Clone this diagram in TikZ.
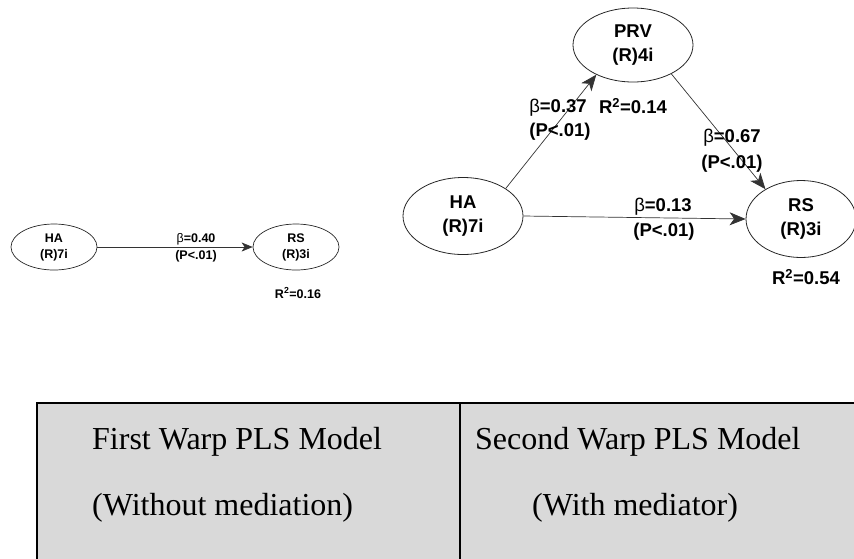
\documentclass[tikz,border=0pt]{standalone}
\usepackage{fontspec}
\setmainfont{Liberation Sans}
\newfontfamily\tabfont{Liberation Serif}
\usetikzlibrary{arrows.meta,shapes.geometric}
\begin{document}
\begin{tikzpicture}[x=1pt,y=-1pt,
  latbig/.style={ellipse,draw=black!85,line width=0.8pt,inner sep=0pt,minimum width=120pt,minimum height=77pt,align=center,font=\fontsize{18.5}{24}\selectfont\bfseries},
  latsmall/.style={ellipse,draw=black!85,line width=0.7pt,inner sep=0pt,minimum width=86pt,minimum height=46pt,align=center,font=\fontsize{12.5}{16}\selectfont\bfseries},
  pathbig/.style={draw=black!80,line width=0.7pt,-{Stealth[length=16pt,width=13pt,inset=4.5pt]}},
  pathsmall/.style={draw=black!80,line width=0.6pt,-{Stealth[length=11pt,width=9pt,inset=3pt]}},
  lblbig/.style={inner sep=0pt,font=\fontsize{18.5}{24}\selectfont\bfseries},
  lblsmall/.style={inner sep=0pt,font=\fontsize{12.5}{16}\selectfont\bfseries},
  tabtext/.style={inner sep=0pt,anchor=base west,font=\tabfont\fontsize{32}{36}\selectfont}
]
\useasboundingbox (0,0) rectangle (854,558);
\clip (0,0) rectangle (854,558);

% table
\fill[fill={rgb,255:red,217;green,217;blue,217}] (37,403) rectangle (880,580);
\draw[line width=1.6pt] (37,580) -- (37,403) -- (880,403);
\draw[line width=1.2pt] (460,403) -- (460,580);
\node[tabtext] (t1) at (92,449) {First Warp PLS Model};
\node[tabtext] (t2) at (92,515) {(Without mediation)};
\node[tabtext] (t3) at (475,449) {Second Warp PLS Model};
\node[tabtext] (t4) at (532,515) {(With mediator)};

% first model
\node[latsmall] (haS) at (54,247) {HA\\(R)7i};
\node[latsmall] (rsS) at (296,247) {RS\\(R)3i};
\draw[pathsmall] (haS.east) -- (rsS.west);
\node[lblsmall] (b1) at (196,239) {\textmd{β}=0.40};
\node[lblsmall] (p1) at (196,256) {(P<.01)};
\node[lblsmall] (r1) at (298,293) {R\textsuperscript{2}=0.16};

% second model
\node[latbig] (haB) at (463,216) {HA\\(R)7i};
\node[latbig,minimum height=74pt] (prv) at (633,45) {PRV\\(R)4i};
\node[latbig,minimum width=110pt] (rsB) at (801,219) {RS\\(R)3i};
\draw[pathbig] (haB.north east) -- (prv.-141);
\draw[pathbig] (prv.-37) -- (rsB.140);
\draw[pathbig] (haB.east) -- (rsB.west);
\node[lblbig] (b2) at (558,108) {\textmd{β}=0.37};
\node[lblbig] (p2) at (560,132) {(P<.01)};
\node[lblbig] (r2) at (633,106) {R\textsuperscript{2}=0.14};
\node[lblbig] (b3) at (732,138) {\textmd{β}=0.67};
\node[lblbig] (p3) at (732,164) {(P<.01)};
\node[lblbig] (b4) at (663,207) {\textmd{β}=0.13};
\node[lblbig] (p4) at (664,232) {(P<.01)};
\node[lblbig] (r4) at (806,277) {R\textsuperscript{2}=0.54};
\end{tikzpicture}
\end{document}
